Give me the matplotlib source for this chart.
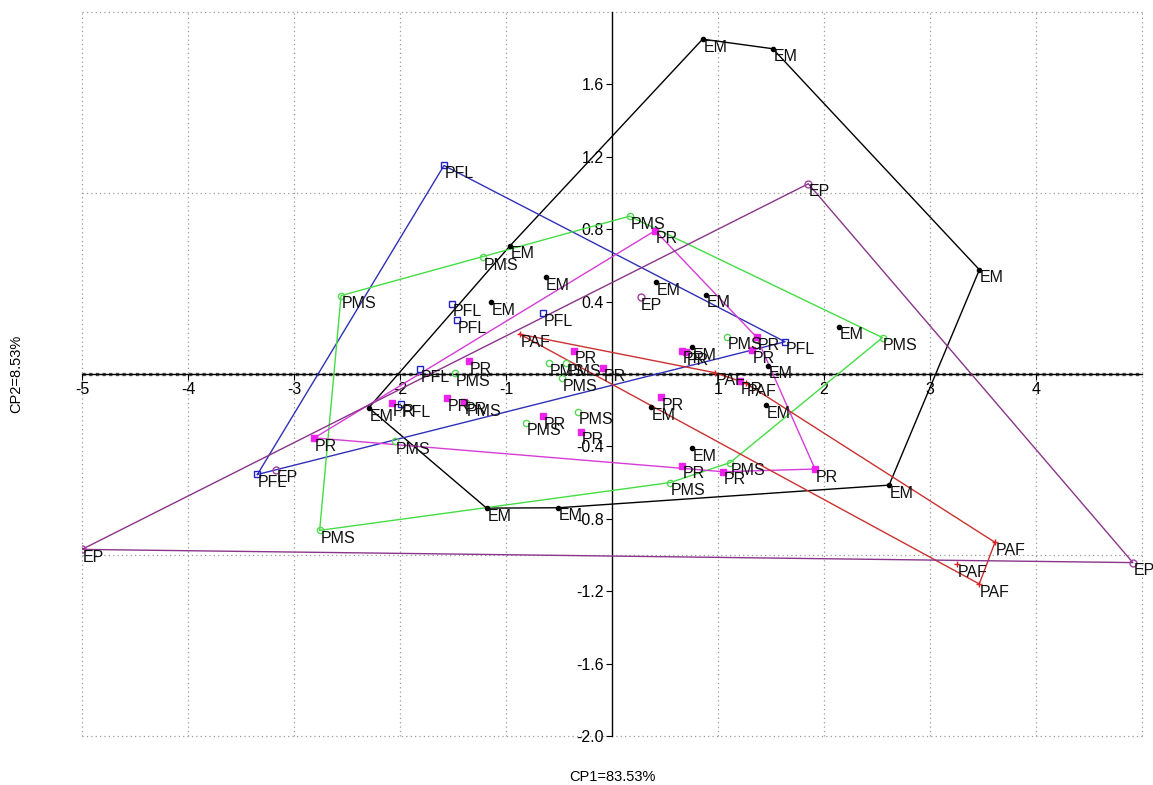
import numpy as np
import matplotlib
matplotlib.use('Agg')
import matplotlib.pyplot as plt

plt.rcParams['font.family'] = ['Liberation Sans', 'DejaVu Sans']

# ---- data (CP1, CP2 scores per group) ----
em_x = [0.855, 1.517, 3.466, 2.614, -0.506, -1.183, -2.295, -0.961, -0.627, -1.140,
        0.414, 0.890, 2.138, 0.758, 1.475, 1.453, 0.365, 0.758]
em_y = [1.850, 1.797, 0.576, -0.614, -0.739, -0.741, -0.187, 0.709, 0.536, 0.397,
        0.506, 0.439, 0.261, 0.147, 0.046, -0.171, -0.185, -0.411]

pfl_x = [-1.585, -1.510, -1.460, -0.651, -1.808, -1.993, -3.345, 1.632]
pfl_y = [1.152, 0.389, 0.298, 0.335, 0.027, -0.166, -0.555, 0.178]

pms_x = [-2.556, -1.217, 0.166, 2.552, 1.082, 1.113, 0.547, -2.758, -2.044, -1.478,
         -1.377, -0.591, -0.434, -0.475, -0.811, -0.318]
pms_y = [0.433, 0.645, 0.872, 0.201, 0.206, -0.490, -0.600, -0.864, -0.370, 0.005,
         -0.160, 0.059, 0.059, -0.024, -0.269, -0.208]

pr_x = [0.407, 1.365, 1.318, 1.915, 1.050, 0.657, -2.808, 0.657, 0.698, 1.208,
        0.462, -0.356, -0.088, -1.352, -2.078, -1.554, -1.396, -0.654, -0.296]
pr_y = [0.792, 0.203, 0.133, -0.525, -0.540, -0.506, -0.353, 0.129, 0.122, -0.040,
        -0.129, 0.129, 0.031, 0.071, -0.162, -0.134, -0.153, -0.232, -0.319]

paf_x = [-0.870, 0.972, 1.260, 3.613, 3.252, 3.465]
paf_y = [0.220, 0.007, -0.050, -0.930, -1.051, -1.160]

ep_x = [-5.000, -3.173, 0.269, 1.852, 4.914]
ep_y = [-0.969, -0.528, 0.424, 1.051, -1.042]

x_ticks = [-5, -4, -3, -2, -1, 0, 1, 2, 3, 4]
y_ticks = [-2.0, -1.6, -1.2, -0.8, -0.4, 0.0, 0.4, 0.8, 1.2, 1.6]
x_label = 'CP1=83.53%'
y_label = 'CP2=8.53%'

groups = [
    ('EM', em_x, em_y, dict(marker='o', ms=3, mfc='black', mec='black'), 'black'),
    ('PFL', pfl_x, pfl_y, dict(marker='s', ms=5, mfc='none', mec='#2222cc', mew=1), '#3030b8'),
    ('PMS', pms_x, pms_y, dict(marker='o', ms=4.5, mfc='none', mec='#55d855', mew=1), '#44dd44'),
    ('PR', pr_x, pr_y, dict(marker='s', ms=4.5, mfc='#ee22ee', mec='#ee22ee'), '#d63cd6'),
    ('PAF', paf_x, paf_y, dict(marker='+', ms=5, mec='#dd2222', mew=1), '#cc3030'),
    ('EP', ep_x, ep_y, dict(marker='o', ms=5, mfc='none', mec='#a040a0', mew=1), '#8a358a'),
]


def convex_hull(xs, ys):
    pts = sorted(set(zip(xs, ys)))
    if len(pts) < 3:
        return pts

    def cross(o, a, b):
        return (a[0] - o[0]) * (b[1] - o[1]) - (a[1] - o[1]) * (b[0] - o[0])

    lower = []
    for p in pts:
        while len(lower) >= 2 and cross(lower[-2], lower[-1], p) <= 0:
            lower.pop()
        lower.append(p)
    upper = []
    for p in reversed(pts):
        while len(upper) >= 2 and cross(upper[-2], upper[-1], p) <= 0:
            upper.pop()
        upper.append(p)
    return lower[:-1] + upper[:-1]


W, H = 1153, 785
fig = plt.figure(figsize=(W / 100, H / 100), dpi=100)
ax = fig.add_axes([82 / W, 1 - 736 / H, (1142 - 82) / W, (736 - 12) / H])
ax.set_xlim(-5, 5)
ax.set_ylim(-2, 2)

# grid (dotted), incl. frame
grid_kw = dict(color='#9a9a9a', lw=0.9, ls=(0, (1, 2.5)), zorder=0, clip_on=False)
for gx in range(-5, 6):
    if gx != 0:
        ax.axvline(gx, **grid_kw)
for gy in [-2, -1, 1, 2]:
    ax.axhline(gy, **grid_kw)
ax.axhline(0, color='#555555', lw=2.4, ls=(0, (1, 1)), zorder=1)

for s in ['top', 'right']:
    ax.spines[s].set_visible(False)
ax.spines['left'].set_position(('data', 0))
ax.spines['bottom'].set_position(('data', 0))
ax.spines['left'].set_linewidth(1.0)
ax.spines['bottom'].set_linewidth(1.0)

ax.set_xticks(x_ticks)
ax.set_xticklabels(['' if t == 0 else str(t) for t in x_ticks])
ax.set_yticks(y_ticks)
ax.set_yticklabels(['' if abs(t) < 1e-9 else f'{t:.1f}' for t in y_ticks])
ax.tick_params(axis='both', direction='out', length=4, width=0.8, labelsize=11.5,
               colors='black', pad=2)

for name, xs, ys, mk, lc in groups:
    h = convex_hull(xs, ys)
    hx = [p[0] for p in h] + [h[0][0]]
    hy = [p[1] for p in h] + [h[0][1]]
    ax.plot(hx, hy, color=lc, lw=1.0, zorder=3)
    ax.plot(xs, ys, ls='none', zorder=4, **mk)
    for x, y in zip(xs, ys):
        ax.annotate(name, (x, y), xytext=(0.5, -0.5), textcoords='offset points',
                    ha='left', va='top', fontsize=11.5, color='#111111', zorder=5,
                    annotation_clip=False)

fig.text(612 / W, 1 - 777 / H, x_label, ha='center', va='center', fontsize=10.5)
fig.text(16 / W, 1 - 374 / H, y_label, ha='center', va='center', fontsize=10.5,
         rotation=90)

fig.savefig('out.png', dpi=100)
